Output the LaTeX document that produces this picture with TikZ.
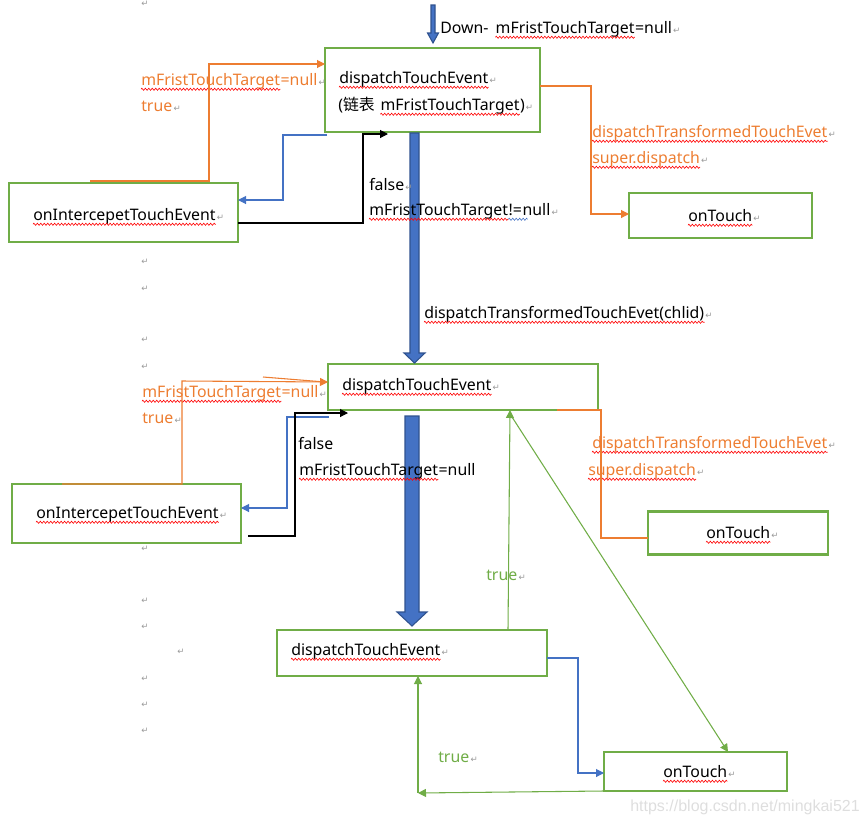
\documentclass[tikz,border=0pt]{standalone}
\usepackage{fontspec}
\setmainfont{Noto Sans}
\newfontfamily\cjk{Noto Sans CJK SC}
\newfontfamily\dv{DejaVu Sans}
\newfontfamily\wm{Liberation Sans}
\usetikzlibrary{arrows.meta,decorations.pathmorphing}
\definecolor{gbox}{HTML}{70AD47}
\definecolor{oline}{HTML}{ED7D31}
\definecolor{bline}{HTML}{4472C4}
\definecolor{bdark}{HTML}{2F528F}
\newcommand\upx{0.75pt}
\begin{document}
\begin{tikzpicture}[x=0.75pt,y=-0.75pt,
  box/.style={draw=gbox, line width=1.8pt, inner sep=0pt, outer sep=0pt},
  txt/.style={inner sep=0pt, anchor=base west, font=\fontsize{11.9pt}{14pt}\selectfont},
  otxt/.style={txt, text=oline},
  gtxt/.style={txt, text=gbox},
  pm/.style={inner sep=0pt, font=\dv\fontsize{6.5pt}{7pt}\selectfont, text=black!40},
  pmk/.style={pm, anchor=base west, xshift=0.5pt},
  squig/.style={draw=red, line width=0.45pt, decorate, decoration={zigzag, amplitude=0.8pt, segment length=2.6pt}},
  bsquig/.style={squig, draw=bline},
  conn/.style={line width=0.8pt},
  tip/.style={-{Triangle[length=6pt,width=6pt]}},
  oc/.style={conn, draw=oline},
  bc/.style={conn, draw=bline},
  kc/.style={conn, draw=black},
  gc/.style={conn, draw=gbox},
  big/.style={fill=bline, draw=bdark, line width=0.8pt}
]
\useasboundingbox (0,0) rectangle (864,825);

% boxes
\node[box, minimum width=215*\upx, minimum height=84*\upx] (D1) at (432.5,90) {};
\node[box, minimum width=229*\upx, minimum height=59*\upx] (I1) at (123.5,212.5) {};
\node[box, minimum width=183*\upx, minimum height=45*\upx] (T1) at (720.5,215.5) {};
\node[box, minimum width=270*\upx, minimum height=46*\upx] (D2) at (463,387) {};
\node[box, minimum width=229*\upx, minimum height=59*\upx] (I2) at (126.5,513.5) {};
\node[box, minimum width=180*\upx, minimum height=43*\upx] (T2) at (738,533) {};
\node[box, minimum width=270*\upx, minimum height=46*\upx] (D3) at (412,653) {};
\node[box, minimum width=183*\upx, minimum height=39*\upx] (T3) at (695.5,771.5) {};

% big blue arrows
\draw[big] (431,5) -- (435,5) -- (435,33) -- (438.5,33) -- (433,43) -- (427.5,33) -- (431,33) -- cycle;
\draw[big] (410,133) -- (419,133) -- (419,353) -- (425,353) -- (414.5,363) -- (404,353) -- (410,353) -- cycle;
\draw[big] (405,416) -- (419,416) -- (419,612) -- (427,612) -- (412,626) -- (397,612) -- (405,612) -- cycle;

% texts in boxes
\node[txt] (D1a) at (339,83) {dispatchTouchEvent};
\node[pmk] (D1aR) at (D1a.base east) {↵};
\node[txt] (D1b1) at (338,110) {({\cjk 链表}\hspace*{4pt}\mbox{}};
\node[txt] (D1b2) at (D1b1.base east) {mFristTouchTarget};
\node[txt] (D1b3) at (D1b2.base east) {)};
\node[pmk] (D1bR) at (D1b3.base east) {↵};
\node[txt] (I1t) at (33,220) {onIntercepetTouchEvent};
\node[pmk] (I1tR) at (I1t.base east) {↵};
\node[txt] (T1t) at (688,221) {onTouch};
\node[pmk] (T1tR) at (T1t.base east) {↵};
\node[txt] (D2t) at (342,390) {dispatchTouchEvent};
\node[pmk] (D2tR) at (D2t.base east) {↵};
\node[txt] (I2t) at (36,518) {onIntercepetTouchEvent};
\node[pmk] (I2tR) at (I2t.base east) {↵};
\node[txt] (T2t) at (706,538) {onTouch};
\node[pmk] (T2tR) at (T2t.base east) {↵};
\node[txt] (D3t) at (291,655) {dispatchTouchEvent};
\node[pmk] (D3tR) at (D3t.base east) {↵};
\node[txt] (T3t) at (663,777) {onTouch};
\node[pmk] (T3tR) at (T3t.base east) {↵};

% labels
\node[txt] (Ld1) at (440,33) {Down-\hspace*{5pt}\mbox{}};
\node[txt] (Ld2) at (Ld1.base east) {mFristTouchTarget};
\node[txt] (Ld3) at (Ld2.base east) {=null};
\node[pmk] (LdR) at (Ld3.base east) {↵};
\node[otxt] (L1o1) at (141,85) {mFristTouchTarget};
\node[otxt] (L1o1b) at (L1o1.base east) {=null};
\node[pmk] (L1o1R) at (L1o1b.base east) {↵};
\node[otxt] (L1o2) at (141,111) {true};
\node[pmk] (L1o2R) at (L1o2.base east) {↵};
\node[txt] (L1f) at (369,190) {false};
\node[pmk] (L1fR) at (L1f.base east) {↵};
\node[txt] (L1n) at (369,215) {mFristTouchTarget};
\node[txt] (L1nb) at (L1n.base east) {!=};
\node[txt] (L1nc) at (L1nb.base east) {null};
\node[pmk] (L1nR) at (L1nc.base east) {↵};
\node[otxt] (L1r1) at (592,137) {dispatchTransformedTouchEvet};
\node[pmk] (L1r1R) at (L1r1.base east) {↵};
\node[otxt] (L1r2) at (592,163) {super.dispatch};
\node[pmk] (L1r2R) at (L1r2.base east) {↵};
\node[txt] (Lm) at (424,318) {dispatchTransformedTouchEvet(chlid)};
\node[pmk] (LmR) at (Lm.base east) {↵};
\node[otxt] (L2o1) at (142,397) {mFristTouchTarget};
\node[otxt] (L2o1b) at (L2o1.base east) {=null};
\node[pmk] (L2o1R) at (L2o1b.base east) {↵};
\node[otxt] (L2o2) at (142,423) {true};
\node[pmk] (L2o2R) at (L2o2.base east) {↵};
\node[txt] (L2f) at (298,449) {false};
\node[txt] (L2n) at (299,475) {mFristTouchTarget};
\node[txt] (L2nb) at (L2n.base east) {=null};
\node[otxt] (L2r1) at (592,448) {dispatchTransformedTouchEvet};
\node[pmk] (L2r1R) at (L2r1.base east) {↵};
\node[otxt] (L2r2) at (588,475) {super.dispatch};
\node[pmk] (L2r2R) at (L2r2.base east) {↵};
\node[gtxt] (G1) at (486,580) {true};
\node[pmk] (G1R) at (G1.base east) {↵};
\node[gtxt] (G2) at (438,762) {true};
\node[pmk] (G2R) at (G2.base east) {↵};

% wavy underlines
\foreach \n in {D1a,D1b2,I1t,T1t,D2t,I2t,T2t,D3t,T3t,Ld2,L1o1,L1n,L1r1,L1r2,Lm,L2o1,L2n,L2r1,L2r2}
  \draw[squig] ([yshift=-3.2pt]\n.base west) -- ([yshift=-3.2pt]\n.base east);
\draw[bsquig] ([yshift=-3.2pt]L1nb.base west) -- ([yshift=-3.2pt,xshift=4pt]L1nb.base east);

% paragraph marks in the margin
\foreach \mx/\my [count=\i] in {145/4,145/262,145/289,145/340,145/367,145/549,145/601,145/627,181/652,145/679,145/705,145/731}
  \node[pm] (pm\i) at (\mx,\my) {↵};

% level 1 connectors
\draw[oc, tip] (90,181) -- (209,181) -- (209,64) -- (D1.west |- 0,64);
\draw[bc, tip] (327,135) -- (283,135) -- (283,200) -- (I1.east |- 0,200);
\coordinate (k1) at (388,134);
\draw[kc, tip] (I1.east |- 0,223) -- (363,223) -- (363,134) -- (k1);
\draw[oc, tip] (D1.east |- 0,86) -- (591,86) -- (591,214) -- (T1.west |- 0,214);

% level 2 connectors
\draw[oc] (263,377) -- (325,382);
\draw[oc, tip] (62,484) -- (182,484) -- (182,381) -- (D2.west |- 0,382);
\draw[bc, tip] (329,417) -- (287,417) -- (287,508) -- (I2.east |- 0,508);
\coordinate (k2) at (348,413);
\draw[kc, tip] (248,536) -- (295,536) -- (295,413) -- (k2);
\draw[oc] (557,410) -- (601,410) -- (601,538) -- (T2.west |- 0,538);
\draw[gc, tip] (D3.north -| 508,0) -- (D2.south -| 510,0);
\draw[gc, tip] (512,417) -- (T3.north -| 728,0);

% level 3 connectors
\draw[bc, tip] (D3.east |- 0,658) -- (578,658) -- (578,773) -- (T3.west |- 0,773);
\coordinate (g3) at (418,793);
\draw[gc, tip] (T3.south west) -- (g3);
\draw[gc, tip] (g3) -- (D3.south -| 418,0);

% watermark
\node[inner sep=0pt, anchor=base west, font=\wm\fontsize{12pt}{14pt}\selectfont, text=black!13] (wm) at (630,811) {https://blog.csdn.net/mingkai521};
\end{tikzpicture}
\end{document}
